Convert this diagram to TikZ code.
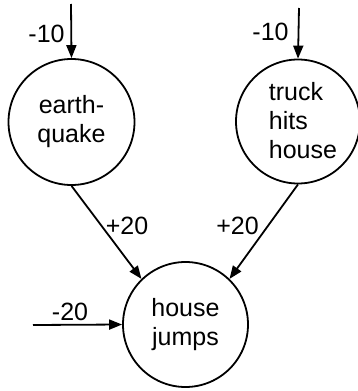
\documentclass[tikz,border=0pt]{standalone}
\usepackage{fontspec}
\setmainfont{Liberation Sans}
\usetikzlibrary{arrows.meta}
\begin{document}
\begin{tikzpicture}[x=1pt,y=-1pt,
  circ/.style={draw, circle, line width=1.8pt, inner sep=0pt, align=center,
    font=\fontsize{25}{29}\selectfont},
  txt/.style={inner sep=0pt, font=\fontsize{25}{29}\selectfont},
  lbl/.style={inner sep=0pt, font=\fontsize{25}{29}\selectfont},
  conn/.style={line width=1.8pt, -{Triangle[length=13pt,width=10pt]}, shorten >=0pt}]
\useasboundingbox (0,0) rectangle (357,391);
\node[circ, minimum size=126pt] (eq) at (71.5,122) {earth-\\quake};
\node[circ, minimum size=124pt] (truck) at (298,121.5) {};
\node[txt, align=left] (trucktext) at (303,121) {truck\\hits\\house};
\node[circ, minimum size=125pt] (hj) at (185.5,324.5) {house\\jumps};
\coordinate (eqin) at (71,4);
\coordinate (trin) at (299,8);
\coordinate (hjin) at (33,325);
\draw[conn] (eqin) -- (eq.north);
\draw[conn] (trin) -- (truck.north);
\draw[conn] (eq.south) -- (hj.134);
\draw[conn] (truck.south) -- (hj.46);
\draw[conn] (hjin) -- (hj.west);
\node[lbl] (l1) at (46.5,33.5) {-10};
\node[lbl] (l2) at (270.5,32) {-10};
\node[lbl] (l3) at (127,226) {+20};
\node[lbl] (l4) at (237.5,226) {+20};
\node[lbl] (l5) at (70,311.5) {-20};
\end{tikzpicture}
\end{document}
